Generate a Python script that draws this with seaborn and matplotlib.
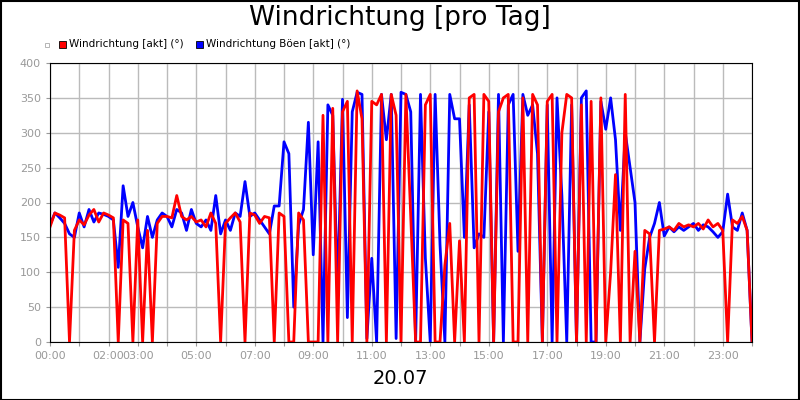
import numpy as np
import pandas as pd
import seaborn as sns
import matplotlib
matplotlib.use("Agg")
import matplotlib.pyplot as plt
from matplotlib.patches import Rectangle

red = [165,185,182,178,0,160, 175,168,182,190,172,185, 182,178,0,175,170,0,
       175,0,160,0,170,180, 180,178,210,180,175,180, 172,175,165,185,170,0,
       170,178,185,172,0,185, 182,170,180,178,0,185, 180,0,0,185,175,0,
       0,0,325,0,335,0, 330,345,0,360,320,0, 345,340,355,0,355,325,
       0,355,180,0,0,340, 355,0,0,110,170,0, 145,0,350,355,0,355,
       345,0,330,350,355,0, 0,350,0,355,340,0, 345,355,0,300,355,350,
       0,340,0,345,0,350, 0,100,240,0,355,0, 130,0,160,155,0,160,
       162,165,160,170,165,168, 165,170,162,175,165,170, 160,0,175,170,180,160, 0]
blue = [168,185,178,170,155,150, 185,165,190,172,185,183, 180,175,107,224,180,200,
        165,135,180,150,175,185, 180,165,190,185,160,190, 170,165,175,160,210,155,
        175,160,185,180,230,180, 185,175,165,155,195,195, 287,270,50,168,190,315,
        125,287,0,340,325,70, 348,35,330,358,355,5, 120,0,355,290,355,5,
        358,355,330,0,355,120, 0,355,140,0,355,320, 320,150,340,135,155,150,
        330,0,355,0,340,355, 130,355,325,340,270,0, 340,0,350,210,0,340,
        0,350,360,0,0,345, 305,350,290,160,300,250, 200,0,105,150,170,200,
        152,165,158,165,160,165, 170,160,168,165,158,150, 158,212,165,160,185,160, 0]
tick_hours = [0,2,3,5,7,9,11,13,15,17,19,21,23]
tick_labels = ["00:00","02:00","03:00","05:00","07:00","09:00","11:00","13:00",
               "15:00","17:00","19:00","21:00","23:00"]

R = "Windrichtung [akt] (°)"
B = "Windrichtung Böen [akt] (°)"
hours = np.arange(len(red)) / 6.0
df = pd.DataFrame({"h": np.concatenate([hours, hours]),
                   "v": red + blue,
                   "s": [R]*len(red) + [B]*len(blue)})

fig = plt.figure(figsize=(8, 4), dpi=100)
ax = fig.add_axes([50/800, 58/400, 702/800, 279/400])
sns.lineplot(data=df, x="h", y="v", hue="s", palette={R: "#ff0000", B: "#0000ff"},
             hue_order=[B, R], linewidth=2, ax=ax, legend=False)
ax.set_xlim(0, 24)
ax.set_ylim(0, 400)
ax.set_xticks(range(25))
ax.set_xticklabels([tick_labels[tick_hours.index(i)] if i in tick_hours else "" for i in range(25)])
ax.set_yticks(range(0, 401, 50))
ax.grid(True, color="#bbbbbb", linewidth=1)
ax.set_axisbelow(True)
ax.tick_params(colors="#999999", labelsize=8, length=3)
for sp in ax.spines.values():
    sp.set_color("black")
ax.set_xlabel("")
ax.set_ylabel("")
fig.text(0.5, 0.955, "Windrichtung [pro Tag]", ha="center", va="center", fontsize=19)
fig.text(0.5, 0.055, "20.07", ha="center", va="center", fontsize=14)
fig.patches.append(Rectangle((45/800, 1-47/400), 4/800, 4/400, transform=fig.transFigure, facecolor="none", edgecolor="#aaaaaa", lw=0.6))
fig.patches.append(Rectangle((59/800, 1-48/400), 7/800, 7/400, transform=fig.transFigure, facecolor="#ff0000", edgecolor="black", lw=0.6))
fig.text(69/800, 1-44/400, R, fontsize=7.5, va="center")
fig.patches.append(Rectangle((196/800, 1-48/400), 7/800, 7/400, transform=fig.transFigure, facecolor="#0000ff", edgecolor="black", lw=0.6))
fig.text(206/800, 1-44/400, B, fontsize=7.5, va="center")
fig.patches.append(Rectangle((0.001, 0.001), 0.998, 0.997, transform=fig.transFigure, facecolor="none", edgecolor="black", lw=1.5))
fig.savefig("out.png", dpi=100)
